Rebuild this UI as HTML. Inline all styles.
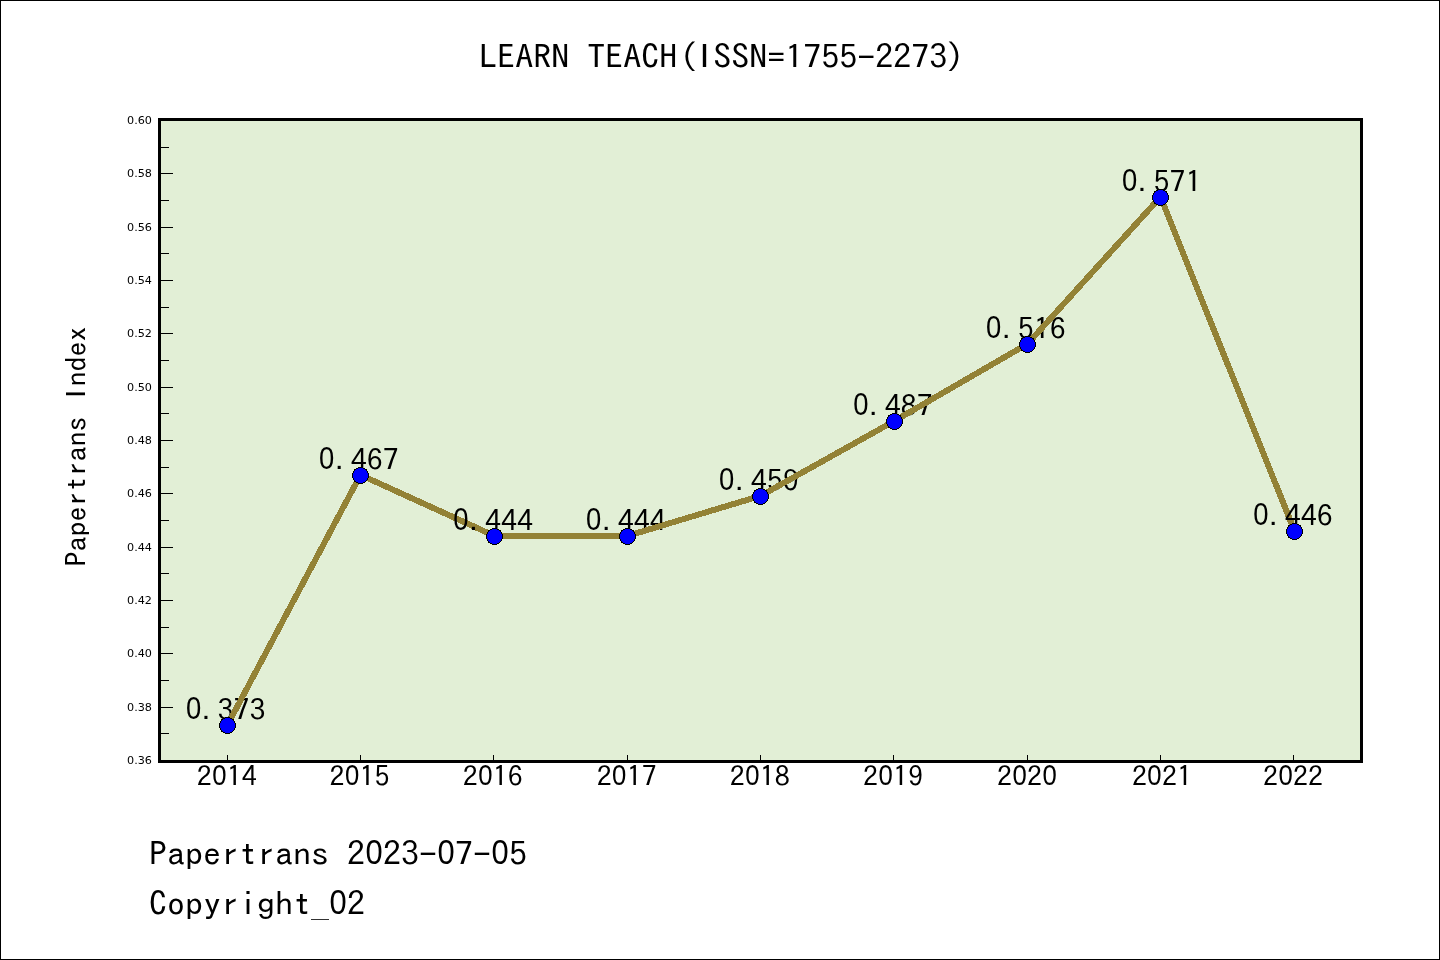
<!DOCTYPE html><html><head><meta charset="utf-8"><title>LEARN TEACH(ISSN=1755-2273)</title><style>
html,body{margin:0;padding:0;background:#fff}
#fig{position:relative;width:1440px;height:960px;box-sizing:border-box;border:1px solid #000;background:#fff;overflow:hidden}
svg{position:absolute;left:-1px;top:-1px;will-change:transform}
.sh{font-family:IPAGothic,'Liberation Mono',monospace;fill:#000;white-space:pre}
.sb{font-family:'Liberation Sans',sans-serif}
.dj{font-family:"DejaVu Sans","Liberation Sans",sans-serif;fill:#000}
</style></head><body><div id="fig">
<svg width="1440" height="960" viewBox="0 0 1440 960">
<rect x="159.5" y="119.5" width="1202" height="642" fill="#e2efd6"/>
<line x1="161" y1="733.5" x2="169" y2="733.5" stroke="#000" stroke-width="1"/>
<line x1="161" y1="707.5" x2="173" y2="707.5" stroke="#000" stroke-width="1"/>
<line x1="161" y1="680.5" x2="169" y2="680.5" stroke="#000" stroke-width="1"/>
<line x1="161" y1="653.5" x2="173" y2="653.5" stroke="#000" stroke-width="1"/>
<line x1="161" y1="627.5" x2="169" y2="627.5" stroke="#000" stroke-width="1"/>
<line x1="161" y1="600.5" x2="173" y2="600.5" stroke="#000" stroke-width="1"/>
<line x1="161" y1="573.5" x2="169" y2="573.5" stroke="#000" stroke-width="1"/>
<line x1="161" y1="547.5" x2="173" y2="547.5" stroke="#000" stroke-width="1"/>
<line x1="161" y1="520.5" x2="169" y2="520.5" stroke="#000" stroke-width="1"/>
<line x1="161" y1="493.5" x2="173" y2="493.5" stroke="#000" stroke-width="1"/>
<line x1="161" y1="467.5" x2="169" y2="467.5" stroke="#000" stroke-width="1"/>
<line x1="161" y1="440.5" x2="173" y2="440.5" stroke="#000" stroke-width="1"/>
<line x1="161" y1="413.5" x2="169" y2="413.5" stroke="#000" stroke-width="1"/>
<line x1="161" y1="387.5" x2="173" y2="387.5" stroke="#000" stroke-width="1"/>
<line x1="161" y1="360.5" x2="169" y2="360.5" stroke="#000" stroke-width="1"/>
<line x1="161" y1="333.5" x2="173" y2="333.5" stroke="#000" stroke-width="1"/>
<line x1="161" y1="307.5" x2="169" y2="307.5" stroke="#000" stroke-width="1"/>
<line x1="161" y1="280.5" x2="173" y2="280.5" stroke="#000" stroke-width="1"/>
<line x1="161" y1="253.5" x2="169" y2="253.5" stroke="#000" stroke-width="1"/>
<line x1="161" y1="227.5" x2="173" y2="227.5" stroke="#000" stroke-width="1"/>
<line x1="161" y1="200.5" x2="169" y2="200.5" stroke="#000" stroke-width="1"/>
<line x1="161" y1="173.5" x2="173" y2="173.5" stroke="#000" stroke-width="1"/>
<line x1="161" y1="147.5" x2="169" y2="147.5" stroke="#000" stroke-width="1"/>
<text class="dj" x="152" y="760.4" font-size="11.2" text-anchor="end" dominant-baseline="central">0.36</text>
<text class="dj" x="152" y="707.0" font-size="11.2" text-anchor="end" dominant-baseline="central">0.38</text>
<text class="dj" x="152" y="653.7" font-size="11.2" text-anchor="end" dominant-baseline="central">0.40</text>
<text class="dj" x="152" y="600.4" font-size="11.2" text-anchor="end" dominant-baseline="central">0.42</text>
<text class="dj" x="152" y="547.0" font-size="11.2" text-anchor="end" dominant-baseline="central">0.44</text>
<text class="dj" x="152" y="493.7" font-size="11.2" text-anchor="end" dominant-baseline="central">0.46</text>
<text class="dj" x="152" y="440.4" font-size="11.2" text-anchor="end" dominant-baseline="central">0.48</text>
<text class="dj" x="152" y="387.0" font-size="11.2" text-anchor="end" dominant-baseline="central">0.50</text>
<text class="dj" x="152" y="333.7" font-size="11.2" text-anchor="end" dominant-baseline="central">0.52</text>
<text class="dj" x="152" y="280.4" font-size="11.2" text-anchor="end" dominant-baseline="central">0.54</text>
<text class="dj" x="152" y="227.0" font-size="11.2" text-anchor="end" dominant-baseline="central">0.56</text>
<text class="dj" x="152" y="173.7" font-size="11.2" text-anchor="end" dominant-baseline="central">0.58</text>
<text class="dj" x="152" y="120.4" font-size="11.2" text-anchor="end" dominant-baseline="central">0.60</text>
<line x1="227.5" y1="755" x2="227.5" y2="760" stroke="#000" stroke-width="1"/>
<line x1="360.5" y1="755" x2="360.5" y2="760" stroke="#000" stroke-width="1"/>
<line x1="493.5" y1="755" x2="493.5" y2="760" stroke="#000" stroke-width="1"/>
<line x1="627.5" y1="755" x2="627.5" y2="760" stroke="#000" stroke-width="1"/>
<line x1="760.5" y1="755" x2="760.5" y2="760" stroke="#000" stroke-width="1"/>
<line x1="893.5" y1="755" x2="893.5" y2="760" stroke="#000" stroke-width="1"/>
<line x1="1027.5" y1="755" x2="1027.5" y2="760" stroke="#000" stroke-width="1"/>
<line x1="1160.5" y1="755" x2="1160.5" y2="760" stroke="#000" stroke-width="1"/>
<line x1="1293.5" y1="755" x2="1293.5" y2="760" stroke="#000" stroke-width="1"/>
<text class="sh" font-size="30" transform="translate(226.83,786) scale(1,0.933)"><tspan x="-30" y="0">2</tspan><tspan class="sb" font-size="31.08" x="-14.65" y="-1.07" textLength="14.31" lengthAdjust="spacingAndGlyphs">0</tspan><tspan x="0" y="0">14</tspan></text>
<text class="sh" font-size="30" transform="translate(359.53,786) scale(1,0.933)"><tspan x="-30" y="0">2</tspan><tspan class="sb" font-size="31.08" x="-14.65" y="-1.07" textLength="14.31" lengthAdjust="spacingAndGlyphs">0</tspan><tspan x="0" y="0">15</tspan></text>
<text class="sh" font-size="30" transform="translate(492.83,786) scale(1,0.933)"><tspan x="-30" y="0">2</tspan><tspan class="sb" font-size="31.08" x="-14.65" y="-1.07" textLength="14.31" lengthAdjust="spacingAndGlyphs">0</tspan><tspan x="0" y="0">16</tspan></text>
<text class="sh" font-size="30" transform="translate(626.73,786) scale(1,0.933)"><tspan x="-30" y="0">2</tspan><tspan class="sb" font-size="31.08" x="-14.65" y="-1.07" textLength="14.31" lengthAdjust="spacingAndGlyphs">0</tspan><tspan x="0" y="0">17</tspan></text>
<text class="sh" font-size="30" transform="translate(759.83,786) scale(1,0.933)"><tspan x="-30" y="0">2</tspan><tspan class="sb" font-size="31.08" x="-14.65" y="-1.07" textLength="14.31" lengthAdjust="spacingAndGlyphs">0</tspan><tspan x="0" y="0">18</tspan></text>
<text class="sh" font-size="30" transform="translate(893.03,786) scale(1,0.933)"><tspan x="-30" y="0">2</tspan><tspan class="sb" font-size="31.08" x="-14.65" y="-1.07" textLength="14.31" lengthAdjust="spacingAndGlyphs">0</tspan><tspan x="0" y="0">19</tspan></text>
<text class="sh" font-size="30" transform="translate(1027.03,786) scale(1,0.933)"><tspan x="-30" y="0">2</tspan><tspan class="sb" font-size="31.08" x="-14.65" y="-1.07" textLength="14.31" lengthAdjust="spacingAndGlyphs">0</tspan><tspan x="0" y="0">2</tspan><tspan class="sb" font-size="31.08" x="15.35" y="-1.07" textLength="14.31" lengthAdjust="spacingAndGlyphs">0</tspan></text>
<text class="sh" font-size="30" transform="translate(1161.93,786) scale(1,0.933)"><tspan x="-30" y="0">2</tspan><tspan class="sb" font-size="31.08" x="-14.65" y="-1.07" textLength="14.31" lengthAdjust="spacingAndGlyphs">0</tspan><tspan x="0" y="0">21</tspan></text>
<text class="sh" font-size="30" transform="translate(1293.03,786) scale(1,0.933)"><tspan x="-30" y="0">2</tspan><tspan class="sb" font-size="31.08" x="-14.65" y="-1.07" textLength="14.31" lengthAdjust="spacingAndGlyphs">0</tspan><tspan x="0" y="0">22</tspan></text>
<text class="sh" font-size="32" transform="translate(225.6,720) scale(1,0.933)"><tspan class="sb" font-size="33.15" x="-39.63" y="-1.07" textLength="15.26" lengthAdjust="spacingAndGlyphs">0</tspan><tspan class="sb" x="-24" y="-1.07">.</tspan><tspan x="-8" y="0">373</tspan></text>
<line x1="227.5" y1="724.9" x2="360.5" y2="474.9" stroke="#938236" stroke-width="6" stroke-linecap="round" shape-rendering="crispEdges"/>
<text class="sh" font-size="32" transform="translate(358.7,470) scale(1,0.933)"><tspan class="sb" font-size="33.15" x="-39.63" y="-1.07" textLength="15.26" lengthAdjust="spacingAndGlyphs">0</tspan><tspan class="sb" x="-24" y="-1.07">.</tspan><tspan x="-8" y="0">467</tspan></text>
<line x1="360.5" y1="474.9" x2="494.5" y2="535.9" stroke="#938236" stroke-width="6" stroke-linecap="round" shape-rendering="crispEdges"/>
<text class="sh" font-size="32" transform="translate(492.9,531) scale(1,0.933)"><tspan class="sb" font-size="33.15" x="-39.63" y="-1.07" textLength="15.26" lengthAdjust="spacingAndGlyphs">0</tspan><tspan class="sb" x="-24" y="-1.07">.</tspan><tspan x="-8" y="0">444</tspan></text>
<line x1="494.5" y1="535.9" x2="627.5" y2="535.9" stroke="#938236" stroke-width="6" stroke-linecap="round" shape-rendering="crispEdges"/>
<text class="sh" font-size="32" transform="translate(625.7,531) scale(1,0.933)"><tspan class="sb" font-size="33.15" x="-39.63" y="-1.07" textLength="15.26" lengthAdjust="spacingAndGlyphs">0</tspan><tspan class="sb" x="-24" y="-1.07">.</tspan><tspan x="-8" y="0">444</tspan></text>
<line x1="627.5" y1="535.9" x2="760.5" y2="495.9" stroke="#938236" stroke-width="6" stroke-linecap="round" shape-rendering="crispEdges"/>
<text class="sh" font-size="32" transform="translate(758.7,491) scale(1,0.933)"><tspan class="sb" font-size="33.15" x="-39.63" y="-1.07" textLength="15.26" lengthAdjust="spacingAndGlyphs">0</tspan><tspan class="sb" x="-24" y="-1.07">.</tspan><tspan x="-8" y="0">459</tspan></text>
<line x1="760.5" y1="495.9" x2="894.5" y2="420.9" stroke="#938236" stroke-width="6" stroke-linecap="round" shape-rendering="crispEdges"/>
<text class="sh" font-size="32" transform="translate(892.8,416) scale(1,0.933)"><tspan class="sb" font-size="33.15" x="-39.63" y="-1.07" textLength="15.26" lengthAdjust="spacingAndGlyphs">0</tspan><tspan class="sb" x="-24" y="-1.07">.</tspan><tspan x="-8" y="0">487</tspan></text>
<line x1="894.5" y1="420.9" x2="1027.5" y2="343.9" stroke="#938236" stroke-width="6" stroke-linecap="round" shape-rendering="crispEdges"/>
<text class="sh" font-size="32" transform="translate(1025.7,339) scale(1,0.933)"><tspan class="sb" font-size="33.15" x="-39.63" y="-1.07" textLength="15.26" lengthAdjust="spacingAndGlyphs">0</tspan><tspan class="sb" x="-24" y="-1.07">.</tspan><tspan x="-8" y="0">516</tspan></text>
<line x1="1027.5" y1="343.9" x2="1160.5" y2="196.9" stroke="#938236" stroke-width="6" stroke-linecap="round" shape-rendering="crispEdges"/>
<text class="sh" font-size="32" transform="translate(1161.5,192) scale(1,0.933)"><tspan class="sb" font-size="33.15" x="-39.63" y="-1.07" textLength="15.26" lengthAdjust="spacingAndGlyphs">0</tspan><tspan class="sb" x="-24" y="-1.07">.</tspan><tspan x="-8" y="0">571</tspan></text>
<line x1="1160.5" y1="196.9" x2="1294.5" y2="530.9" stroke="#938236" stroke-width="6" stroke-linecap="round" shape-rendering="crispEdges"/>
<text class="sh" font-size="32" transform="translate(1292.8,526) scale(1,0.933)"><tspan class="sb" font-size="33.15" x="-39.63" y="-1.07" textLength="15.26" lengthAdjust="spacingAndGlyphs">0</tspan><tspan class="sb" x="-24" y="-1.07">.</tspan><tspan x="-8" y="0">446</tspan></text>
<circle cx="227.5" cy="725.5" r="8" fill="#0000ff" stroke="#000" stroke-width="1" shape-rendering="crispEdges"/>
<circle cx="360.5" cy="475.5" r="8" fill="#0000ff" stroke="#000" stroke-width="1" shape-rendering="crispEdges"/>
<circle cx="494.5" cy="536.5" r="8" fill="#0000ff" stroke="#000" stroke-width="1" shape-rendering="crispEdges"/>
<circle cx="627.5" cy="536.5" r="8" fill="#0000ff" stroke="#000" stroke-width="1" shape-rendering="crispEdges"/>
<circle cx="760.5" cy="496.5" r="8" fill="#0000ff" stroke="#000" stroke-width="1" shape-rendering="crispEdges"/>
<circle cx="894.5" cy="421.5" r="8" fill="#0000ff" stroke="#000" stroke-width="1" shape-rendering="crispEdges"/>
<circle cx="1027.5" cy="344.5" r="8" fill="#0000ff" stroke="#000" stroke-width="1" shape-rendering="crispEdges"/>
<circle cx="1160.5" cy="197.5" r="8" fill="#0000ff" stroke="#000" stroke-width="1" shape-rendering="crispEdges"/>
<circle cx="1294.5" cy="531.5" r="8" fill="#0000ff" stroke="#000" stroke-width="1" shape-rendering="crispEdges"/>
<rect x="159.5" y="119.5" width="1202" height="642" fill="none" stroke="#000" stroke-width="3"/>
<text class="sh" font-size="36" transform="translate(722.3,69) scale(1,0.933)"><tspan x="-243" y="0">LEARN TEACH</tspan><tspan x="-42.48" y="0">(</tspan><tspan class="sb" x="-22.82" y="-2.14">I</tspan><tspan x="-9" y="0">SSN=1755-2273</tspan><tspan x="223.74" y="0">)</tspan></text>
<text class="sh" font-size="30" transform="translate(86,446.4) rotate(-90) scale(1,0.933)"><tspan x="-120" y="0">Papertrans </tspan><tspan class="sb" x="48.48" y="-1.07">I</tspan><tspan x="60" y="0">ndex</tspan></text>
<text class="sh" font-size="36" transform="translate(149,866) scale(1,0.933)"><tspan x="0" y="0">Papertrans 2</tspan><tspan class="sb" font-size="37.3" x="216.42" y="-2.14" textLength="17.17" lengthAdjust="spacingAndGlyphs">0</tspan><tspan x="234" y="0">23-</tspan><tspan class="sb" font-size="37.3" x="288.42" y="-2.14" textLength="17.17" lengthAdjust="spacingAndGlyphs">0</tspan><tspan x="306" y="0">7-</tspan><tspan class="sb" font-size="37.3" x="342.42" y="-2.14" textLength="17.17" lengthAdjust="spacingAndGlyphs">0</tspan><tspan x="360" y="0">5</tspan></text>
<text class="sh" font-size="36" transform="translate(149,916) scale(1,0.933)"><tspan x="0" y="0">Copyright_</tspan><tspan class="sb" font-size="37.3" x="180.42" y="-2.14" textLength="17.17" lengthAdjust="spacingAndGlyphs">0</tspan><tspan x="198" y="0">2</tspan></text>
</svg></div></body></html>
